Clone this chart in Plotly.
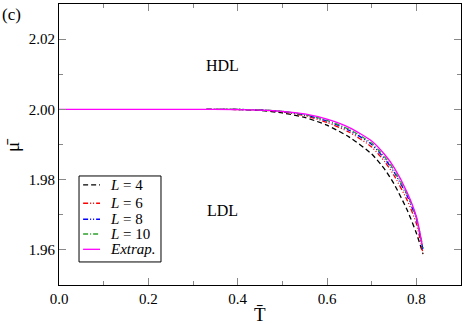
import plotly.graph_objects as go

# curves: reduced temperature vs reduced chemical potential
t_l4 = [0.33, 0.40, 0.45, 0.50, 0.55, 0.60, 0.65, 0.70, 0.73, 0.75, 0.78, 0.80, 0.815]
mu_l4 = [2.0000, 1.99995, 1.9997, 1.9990, 1.9977, 1.9955, 1.9921, 1.9873, 1.9828, 1.9788, 1.9712, 1.9648, 1.9588]

t_l6 = [0.33, 0.40, 0.45, 0.50, 0.55, 0.60, 0.65, 0.70, 0.73, 0.75, 0.78, 0.80, 0.815]
mu_l6 = [2.0000, 1.99997, 1.9998, 1.9993, 1.9982, 1.9963, 1.9935, 1.9893, 1.9850, 1.9812, 1.9740, 1.9675, 1.9590]

t_l8 = [0.33, 0.40, 0.45, 0.50, 0.55, 0.60, 0.65, 0.70, 0.73, 0.75, 0.78, 0.80, 0.815]
mu_l8 = [2.0000, 1.99998, 1.99985, 1.9994, 1.9984, 1.9967, 1.9940, 1.9900, 1.9858, 1.9822, 1.9752, 1.9688, 1.9600]

t_l10 = [0.33, 0.40, 0.45, 0.50, 0.55, 0.60, 0.65, 0.70, 0.73, 0.75, 0.78, 0.80, 0.815]
mu_l10 = [2.0000, 1.99998, 1.99987, 1.99945, 1.9985, 1.9969, 1.9943, 1.9904, 1.9863, 1.9827, 1.9757, 1.9693, 1.9605]

t_ext = [0.0, 0.30, 0.40, 0.45, 0.50, 0.55, 0.60, 0.65, 0.70, 0.73, 0.75, 0.78, 0.80, 0.813]
mu_ext = [2.0000, 2.0000, 1.99995, 1.9998, 1.99945, 1.9987, 1.9972, 1.9948, 1.9910, 1.9870, 1.9835, 1.9762, 1.9695, 1.9615]

series = [
    ("<i>L</i> = 4", t_l4, mu_l4, "black", "5px,3px"),
    ("<i>L</i> = 6", t_l6, mu_l6, "red", "5px,2px,1px,2px,1px,2px"),
    ("<i>L</i> = 8", t_l8, mu_l8, "blue", "5px,2px,1px,2px,1px,2px"),
    ("<i>L</i> = 10", t_l10, mu_l10, "#2ca02c", "5px,2px,1px,2px"),
    ("<i>Extrap.</i>", t_ext, mu_ext, "magenta", "solid"),
]

font = "Times New Roman"

fig = go.Figure()
for name, t, mu, color, dash in series:
    fig.add_trace(go.Scatter(
        x=t, y=mu, mode="lines", name=name, showlegend=False,
        line=dict(color=color, width=1.3, dash=dash, shape="spline", smoothing=0.6),
    ))

axis_common = dict(
    showline=True, linecolor="black", linewidth=1, mirror="allticks",
    ticks="inside", tickcolor="#888", ticklen=7, showgrid=False, zeroline=False,
    tickfont=dict(family=font, size=15, color="black"), automargin=False,
)

fig.update_xaxes(
    range=[0, 0.9], dtick=0.2, tickformat=".1f",
    minor=dict(dtick=0.1, ticks="inside", ticklen=4, tickcolor="#888"),
    **axis_common,
)
fig.update_yaxes(
    range=[1.95, 2.03], dtick=0.02, tickformat=".2f",
    minor=dict(dtick=0.01, ticks="inside", ticklen=4, tickcolor="#888"),
    **axis_common,
)

# compact legend box (plotly's own legend rows are too tall for this panel)
fig.add_shape(type="rect", xref="paper", yref="paper", x0=0.0498, x1=0.2537, y0=0.082, y1=0.388,
              line=dict(color="black", width=1), fillcolor="white", layer="above")
row_y = [0.356, 0.291, 0.234, 0.1815, 0.127]
for (name, t, mu, color, dash), ry in zip(series, row_y):
    fig.add_shape(type="line", xref="paper", yref="paper", x0=0.06, x1=0.102, y0=ry, y1=ry,
                  line=dict(color=color, width=1.3, dash=dash), layer="above")
    fig.add_annotation(xref="paper", yref="paper", x=0.122, y=ry, xanchor="left", yanchor="middle",
                       text=name, showarrow=False, font=dict(family=font, size=15, color="black"))

# axis titles and panel labels as annotations to keep the plot area fixed
fig.add_annotation(xref="paper", yref="paper", x=0.5, y=-0.06, xanchor="center", yanchor="top",
                   text="T\u0304", showarrow=False, font=dict(family=font, size=19, color="black"))
fig.add_annotation(xref="paper", yref="paper", x=-0.117, y=0.498, xanchor="center", yanchor="middle",
                   text="\u03bc\u0304", showarrow=False, textangle=-90,
                   font=dict(family=font, size=19, color="black"))
fig.add_annotation(x=0.365, y=2.0126, text="HDL", showarrow=False,
                   font=dict(family=font, size=16, color="black"))
fig.add_annotation(x=0.365, y=1.9712, text="LDL", showarrow=False,
                   font=dict(family=font, size=16, color="black"))
fig.add_annotation(xref="paper", yref="paper", x=-0.147, y=1.005, xanchor="left", yanchor="top",
                   text="(c)", showarrow=False, font=dict(family=font, size=17, color="black"))

fig.update_layout(
    width=463, height=324,
    margin=dict(l=59, r=2, t=4, b=39),
    plot_bgcolor="white", paper_bgcolor="white",
    font=dict(family=font, color="black"),
    showlegend=False,
)

# drop the page's default body margin so the figure sits at the window corner
fig.write_html("out.html", config={"displayModeBar": False},
               post_script="document.body.style.margin='0';")
